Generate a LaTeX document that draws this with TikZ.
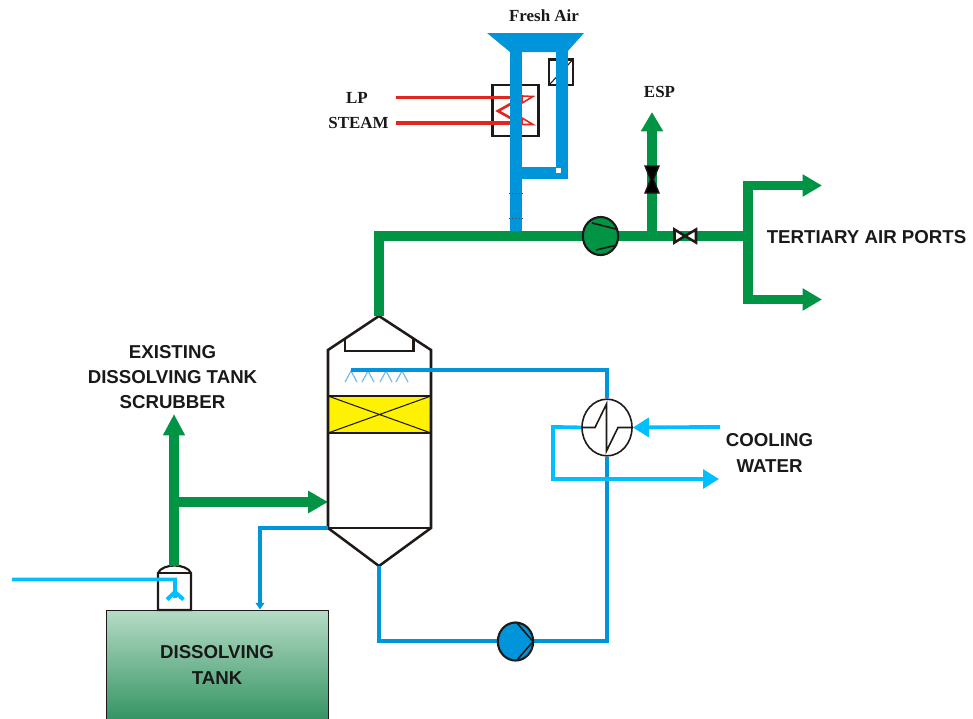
\documentclass[tikz,border=0pt]{standalone}
\usepackage{fontspec}
\setmainfont{Liberation Sans}
\newfontfamily\serifb{Liberation Serif}
\usetikzlibrary{arrows.meta,calc,shapes.geometric}
\definecolor{pgreen}{HTML}{009444}
\definecolor{pblue}{HTML}{0095DA}
\definecolor{pcyan}{HTML}{00BFFF}
\definecolor{pred}{HTML}{E0261F}
\definecolor{pyellow}{HTML}{FFF200}
\definecolor{outl}{HTML}{1F1A17}
\definecolor{tanktop}{HTML}{B5DBC6}
\definecolor{tankbot}{HTML}{359463}
\definecolor{spray}{HTML}{6FBDEB}
\tikzset{
  greenpipe/.style={draw=pgreen,line width=6.9pt,line join=miter},
  greenarrow/.style={greenpipe,-{Triangle[length=14.5pt,width=15.8pt]}},
  thickarrow/.style={draw=pgreen,line width=7.4pt,-{Triangle[length=15pt,width=16pt]}},
  airpipe/.style={draw=pblue,line width=9pt},
  bluepipe/.style={draw=pblue,line width=2.6pt},
  cyanpipe/.style={draw=pcyan,line width=2.9pt},
  cyanarrow/.style={cyanpipe,-{Triangle[length=12pt,width=14pt]}},
  redpipe/.style={draw=pred,line width=2.6pt},
  outline/.style={draw=outl,line width=1.9pt},
  thinout/.style={draw=outl,line width=1.2pt},
  sprayline/.style={draw=spray,line width=0.9pt},
  lab/.style={font=\bfseries\fontsize{14}{16.8}\selectfont,text=black!90,align=center,inner sep=0pt},
  serlab/.style={font=\serifb\bfseries\fontsize{12.7}{15}\selectfont,text=black!90,align=center,inner sep=0pt},
  pumpbody/.style={ellipse,draw=outl,line width=1.6pt,minimum width=26.5pt,minimum height=28.5pt,inner sep=0pt},
  hxbody/.style={ellipse,draw=outl,line width=1.2pt,fill=white,minimum width=37.5pt,minimum height=42.5pt,inner sep=0pt},
}
\begin{document}
\begin{tikzpicture}[x=0.75pt,y=-0.75pt]
\useasboundingbox (0,0) rectangle (973,718);
% named points
\coordinate (airL) at (516,50);
\coordinate (airJ) at (516,236);
\coordinate (airT) at (516,172.5);
\coordinate (airR) at (561.5,50);
\coordinate (airC) at (561.5,172.5);
\coordinate (main0) at (379,236);
\coordinate (colTop) at (379,316);
\coordinate (colBot) at (379,566);
\coordinate (espJ) at (652,236);
\coordinate (espTip) at (652,112);
\coordinate (tapJ) at (748,236);
\coordinate (tapUp) at (748,185.5);
\coordinate (tapDn) at (748,299.5);
\coordinate (tapUpTip) at (822,185.5);
\coordinate (tapDnTip) at (822,299.5);
\coordinate (hdrL) at (351,370);
\coordinate (hdrR) at (607,370);
\coordinate (loopA) at (379,641);
\coordinate (loopB) at (607,641);
\coordinate (retA) at (328,528);
\coordinate (retB) at (260,528);
\coordinate (retC) at (260,609.5);
\coordinate (scrTop) at (174,566);
\coordinate (exTip) at (174,414);
\coordinate (exJ) at (174,502);
\coordinate (exTip2) at (328,502);
\coordinate (cwIn) at (720,427);
\coordinate (cwA) at (553,427);
\coordinate (cwB) at (553,479);
\coordinate (cwOut) at (719,479);
\coordinate (lineIn) at (12,579.5);
\coordinate (lineK) at (175,579.5);
\coordinate (lineS) at (175,592);
\coordinate (lp1) at (396,97.5);
\coordinate (lp2) at (396,123);

% dissolving tank
\node[draw=outl,line width=1pt,top color=tanktop,bottom color=tankbot,minimum width=166.5pt,minimum height=81.5pt,inner sep=0pt,anchor=north west] (tank) at (106,610) {};
\node[lab] (tanklab) at (217,665) {DISSOLVING\\[2.6pt]TANK};

% scrubber head
\draw[outline,fill=white,line width=1.6pt] (158,610) -- (158,573) .. controls (160,568) and (168,565.5) .. (174.5,565.5) .. controls (181,565.5) and (189,568) .. (191,573) -- (191,610) -- cycle;
\draw[thinout] (158,573) -- (191,573);
\draw[greenpipe,line width=7pt] (exJ) -- (scrTop);
\draw[cyanpipe,line join=miter] (lineIn) -- (lineK) -- (lineS) -- (167,599.5);
\draw[cyanpipe] (lineS) -- (183.5,599.5);
\draw[cyanpipe] (lineS) -- (175,598);
\draw[greenpipe,line width=7pt,-{Triangle[length=16pt,width=15.5pt]}] (exJ) -- (exTip);
\draw[thickarrow] (exJ) -- (exTip2);

% column
\path[fill=pyellow] (328,396) rectangle (431,433);
\draw[thinout,line width=0.8pt] (328,396) -- (431,433) (431,396) -- (328,433);
\draw[outline,line join=miter] (colTop) -- (431,350) -- (431,528) -- (colBot) -- (328,528) -- (328,350) -- cycle;
\draw[outline] (328,528) -- (431,528);
\draw[outline] (328,396) -- (431,396);
\draw[outline] (328,433) -- (431,433);
\draw[outline] (345,338) -- (345,351) -- (413.5,351) -- (413.5,338);
\foreach \sx in {351,368,386,402}{
  \draw[sprayline] (\sx-6,382) -- (\sx,371) -- (\sx+6,382);
}

% blue loop
\node[hxbody] (hx) at (607,427.5) {};
\draw[bluepipe,line join=miter] (hdrL) -- (hdrR) -- (hx.north);
\draw[bluepipe,line join=miter] (hx.south) -- (loopB) -- (loopA) -- (colBot);
\draw[bluepipe,line join=miter,-{Triangle[length=5pt,width=6.5pt]}] (retA) -- (retB) -- (retC);
% cooling water
\draw[cyanpipe,line join=miter] (hx.west) -- (cwA) -- (cwB) -- (607,479);
\draw[cyanarrow] (cwB) -- (cwOut);
\draw[cyanarrow] (cwIn) -- (hx.east);
\draw[thinout] (hx.west) -- (595,427.5) -- (606.5,404) -- (606.5,451) -- (618,427.5) -- (hx.east);

% pump, blue
\node[pumpbody,fill=pblue] (pumpB) at (515.5,641.5) {};
\draw[thinout] (517,623) -- (533,641.5) -- (517,660);

% heater and damper boxes
\draw[outline,fill=white] (492.5,85) rectangle (538.5,136);
\draw[outline,fill=white] (549,59.5) rectangle (573,85);
\draw[thinout,line width=0.8pt] (549,85) -- (573,59.5);
\draw[redpipe] (lp1) -- (516,97.5);
\draw[redpipe] (lp2) -- (516,123);
\draw[draw=pred,line width=2pt,line join=miter,miter limit=10] (514,102) -- (498,111) -- (514,120);
\draw[draw=pred,fill=white,line width=1.2pt,line join=miter] (522,96) -- (533,96.5) -- (522,103) -- cycle;
\draw[draw=pred,fill=white,line width=1.2pt,line join=miter] (522,124.5) -- (533,124.5) -- (522,118) -- cycle;

% air pipes
\draw[airpipe] (airL) -- (airJ);
\draw[airpipe,line join=miter] (airR) -- (airC) -- (airT);
\fill[white] (555.5,168) rectangle (560.5,173);
\fill[pblue] (487,33) -- (584,33) -- (567,52) -- (510,52) -- cycle;
\draw[thinout,line width=0.5pt,dotted,draw=black!70] (509,193) -- (523,193) (509,218) -- (523,218);

% green main
\draw[greenpipe] (colTop) -- (main0) -- (tapJ);
\draw[greenarrow] (espJ) -- (espTip);
\draw[greenpipe,{Triangle[length=14.5pt,width=15.8pt]}-{Triangle[length=14.5pt,width=15.8pt]}] (tapUpTip) -- (tapUp) -- (tapDn) -- (tapDnTip);

% valves
\node[inner sep=0pt,minimum size=1pt] (espV) at (652,179.5) {};
\fill[black,draw=outl,line width=1pt] (645,166) -- (659,166) -- (653.5,179.5) -- (659,193) -- (645,193) -- (650.5,179.5) -- cycle;
\node[inner sep=0pt,minimum size=1pt] (tapV) at (685,236) {};
\draw[outline,fill=white] (674.5,229.5) -- (tapV.center) -- (674.5,242.5) -- cycle;
\draw[outline,fill=white] (696,229.5) -- (tapV.center) -- (696,242.5) -- cycle;

% pump, green
\node[pumpbody,fill=pgreen] (pumpG) at (600.5,236) {};
\draw[thinout] (592,223) -- (616,229);
\draw[thinout] (596,250) -- (617,245);

% labels
\node[serlab] (fresh) at (544,16) {Fresh Air};
\node[serlab] (lp) at (357,98) {LP};
\node[serlab] (steam) at (358.5,122.5) {STEAM};
\node[serlab] (esp) at (659.5,92) {ESP};
\node[lab] (tap) at (866.5,237) {TERTIARY AIR PORTS};
\node[lab] (ex) at (172.5,377) {EXISTING\\[2pt]DISSOLVING TANK\\[2pt]SCRUBBER};
\node[lab] (cw) at (769.5,453) {COOLING\\[2pt]WATER};
\end{tikzpicture}
\end{document}
